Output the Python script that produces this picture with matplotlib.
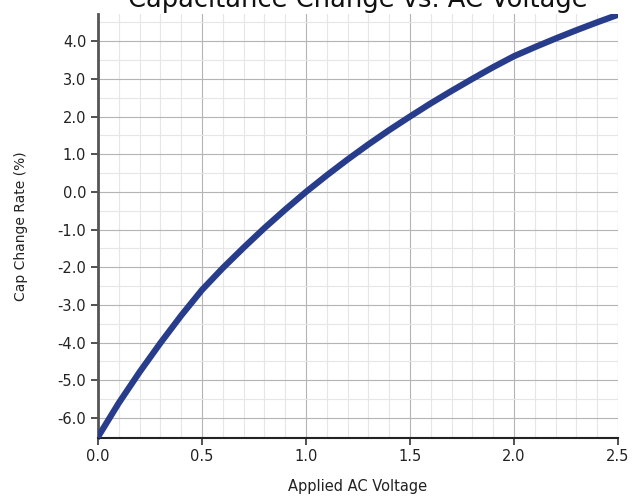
import matplotlib
matplotlib.use("Agg")
import matplotlib.pyplot as plt
from matplotlib.ticker import MultipleLocator, FormatStrFormatter

# Data
voltage = [0.0, 0.1, 0.2, 0.3, 0.4, 0.5, 0.6, 0.7, 0.8, 0.9, 1.0,
           1.1, 1.2, 1.3, 1.4, 1.5, 1.6, 1.7, 1.8, 1.9, 2.0,
           2.1, 2.2, 2.3, 2.4, 2.5]
cap_change = [-6.5, -5.6, -4.78, -4.01, -3.28, -2.6, -2.02, -1.48, -0.96, -0.47, 0.0,
              0.44, 0.86, 1.26, 1.64, 2.0, 2.35, 2.68, 3.0, 3.31, 3.6,
              3.84, 4.07, 4.29, 4.5, 4.7]

plt.rcParams['axes.unicode_minus'] = False
plt.rcParams['font.family'] = ['DejaVu Sans']

fig = plt.figure(figsize=(6.44, 5.0), dpi=100)
ax = fig.add_axes([98/644, 62/500, 520/644, 424/500])

ax.plot(voltage, cap_change, color='#283c8c', lw=4.5, solid_capstyle='round', zorder=3)

ax.set_xlim(0, 2.5)
ax.set_ylim(-6.53, 4.72)
ax.xaxis.set_major_locator(MultipleLocator(0.5))
ax.xaxis.set_minor_locator(MultipleLocator(0.1))
ax.yaxis.set_major_locator(MultipleLocator(1.0))
ax.yaxis.set_minor_locator(MultipleLocator(0.5))
ax.xaxis.set_major_formatter(FormatStrFormatter('%.1f'))
ax.yaxis.set_major_formatter(FormatStrFormatter('%.1f'))

ax.grid(which='major', color='#b4b4b4', lw=0.8)
ax.grid(which='minor', color='#e6e6e6', lw=0.8)
ax.set_axisbelow(True)

for s in ['top', 'right']:
    ax.spines[s].set_visible(False)
ax.spines['left'].set_color('#555555')
ax.spines['left'].set_linewidth(2)
ax.spines['bottom'].set_color('#222222')
ax.spines['bottom'].set_linewidth(1.5)

ax.tick_params(which='major', length=5, width=1.2, color='#333333', labelsize=10.5, labelcolor='#222222')
ax.tick_params(which='minor', length=0)
ax.tick_params(axis='x', pad=3)

ax.set_xlabel('Applied AC Voltage', fontsize=10.5, color='#222222', labelpad=11)
ax.set_ylabel('Cap Change Rate (%)', fontsize=10, color='#222222', labelpad=21)
ax.set_title('Capacitance Change vs. AC Voltage', fontsize=18.5, color='#111111', pad=5)

fig.savefig('out.png', dpi=100)
